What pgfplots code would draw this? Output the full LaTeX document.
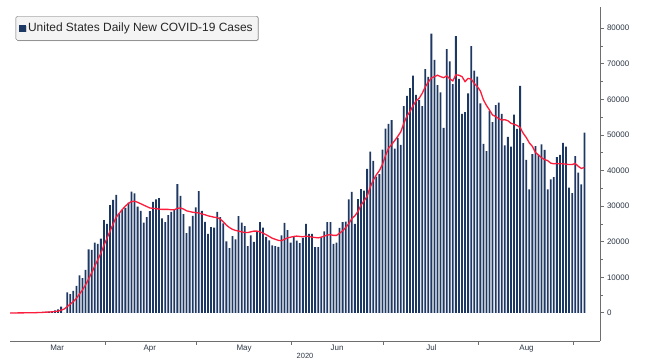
\documentclass[border=0pt]{standalone}
\usepackage{pgfplots}
\pgfplotsset{compat=1.18}
\usepackage{pgfplotstable}
\usepackage{fontspec}
\setmainfont{Liberation Sans}
\usetikzlibrary{shadows}
\definecolor{barblue}{RGB}{30,56,100}
\definecolor{malred}{RGB}{252,28,60}
\definecolor{axgray}{RGB}{110,110,110}
\definecolor{txt}{RGB}{45,55,70}

\pgfplotstableread{
d cases ma
0 10 20
1 15 20
2 20 20
3 30 25
4 40 30
5 60 40
6 80 50
7 110 60
8 100 75
9 200 100
10 250 130
11 300 170
12 350 220
13 400 270
14 550 330
15 700 410
16 1000 500
17 1800 800
18 0 1100
19 5800 1800
20 5300 2500
21 6200 3200
22 7600 4100
23 10600 5300
24 9800 6500
25 12100 7900
26 17900 9600
27 17700 11300
28 19800 13200
29 19400 15000
30 20900 16800
31 26100 19000
32 25000 21000
33 30300 23000
34 31800 25000
35 33200 26900
36 28000 28000
37 28900 29100
38 29500 30000
39 31000 30800
40 34100 31300
41 33600 31400
42 29900 31100
43 28700 30700
44 25400 30300
45 26900 29900
46 28600 29500
47 31200 29400
48 31900 29300
49 32300 29200
50 26600 29100
51 25500 29100
52 27500 29100
53 28400 29000
54 28900 29000
55 36200 29400
56 32900 29500
57 27800 29200
58 22400 28700
59 24300 28500
60 27300 28300
61 29700 28200
62 34200 28100
63 28700 27800
64 25600 27600
65 22200 27300
66 24100 27100
67 24000 26900
68 28400 26800
69 26900 26400
70 25200 25600
71 20100 24700
72 18200 24000
73 21600 23500
74 20700 23200
75 27200 23000
76 25400 22800
77 24400 22600
78 18800 22600
79 21800 22800
80 20000 23000
81 22700 23000
82 25500 22800
83 24000 22400
84 21400 22000
85 20400 21500
86 19000 21000
87 18800 20700
88 18600 20400
89 21800 20300
90 25300 20700
91 23300 21100
92 19800 21300
93 21300 21500
94 20300 21600
95 19600 21500
96 21100 21400
97 25000 21600
98 22200 21500
99 22200 21300
100 18500 21200
101 18500 21100
102 21300 21300
103 22900 21600
104 25500 21900
105 25500 22000
106 19400 21800
107 19800 21800
108 23900 22400
109 25500 23100
110 25700 24000
111 31900 25100
112 34000 26500
113 25000 27300
114 32000 28500
115 34800 30300
116 34400 31500
117 40500 32800
118 45300 35300
119 42700 37300
120 38300 38800
121 39000 40000
122 45900 41700
123 51800 44200
124 53100 46300
125 54200 47300
126 46200 48400
127 49200 49600
128 47200 50900
129 58100 53300
130 61000 55300
131 63200 56600
132 66700 58200
133 61300 59600
134 59800 60300
135 58100 61700
136 68500 63500
137 66300 64900
138 78500 66000
139 71100 66400
140 64000 66800
141 62000 66400
142 52000 66100
143 74100 66600
144 70700 65800
145 64300 65200
146 77800 66900
147 65800 66800
148 55900 66400
149 56400 65000
150 61700 65900
151 75000 65700
152 68100 64500
153 66400 63600
154 58900 62400
155 47500 59900
156 45500 58300
157 56700 57000
158 53600 55600
159 58400 55200
160 59100 54600
161 55900 54200
162 47100 54300
163 49500 54000
164 46700 53300
165 55700 53000
166 51700 52700
167 63800 52100
168 47700 50500
169 43000 49300
170 34700 47800
171 44600 46800
172 46900 45100
173 44400 44400
174 47400 43600
175 45800 43100
176 34700 42800
177 37500 42100
178 38200 41900
179 43800 42000
180 44400 41900
181 47800 41900
182 46700 41800
183 35200 41700
184 33700 41700
185 44100 42000
186 39400 41200
187 36100 40600
188 50700 40900
}\covid

\begin{document}
\begin{tikzpicture}
\useasboundingbox (0,0) rectangle (653bp,360bp);
\begin{axis}[
  at={(10bp,19bp)}, anchor=south west,
  scale only axis, width=590bp, height=334bp,
  xmin=0.3, xmax=193.1, ymin=-7870, ymax=85960,
  axis x line*=bottom, axis y line*=right,
  axis line style={axgray, line width=0.7bp},
  tick align=outside,
  xtick={31.3,61.3,92.3,122.4,153.4,184.4},
  xticklabels={},
  extra x ticks={15.7,46.0,76.8,107.2,138.0,169.1},
  extra x tick labels={Mar,Apr,May,Jun,Jul,Aug},
  extra x tick style={major tick length=0pt},
  x tick style={axgray, line width=0.6bp},
  major tick length=3.5bp,
  minor tick length=2.5bp,
  y tick style={axgray, line width=1bp},
  minor y tick style={line width=0.6bp},
  ytick={0,10000,20000,30000,40000,50000,60000,70000,80000},
  minor y tick num=1,
  scaled y ticks=false,
  yticklabel style={/pgf/number format/.cd, fixed, precision=0, 1000 sep={}, assume math mode=true},
  tick label style={font=\fontsize{8}{9}\selectfont, text=txt},
  xlabel={2020},
  xlabel style={at={(axis description cs:0.5,0)}, anchor=north, yshift=-12.5bp, inner sep=0pt, font=\fontsize{7.5}{8}\selectfont, text=txt},
  legend image code/.code={\fill[barblue, sharp corners] (0bp,-3.3bp) rectangle (6.7bp,3.4bp);},
  legend style={at={(axis description cs:0.0097,0.973)}, anchor=north west,
    draw=gray!85!black, fill=gray!9, rounded corners=1.5bp,
    drop shadow={shadow xshift=0.8bp, shadow yshift=-0.8bp, opacity=0.35},
    font=\fontsize{12}{14}\selectfont, text=black!85,
    inner xsep=3.5bp, inner ysep=5bp},
]
\addplot[ybar, bar width=1.8bp, fill=barblue, draw=none] table[x=d, y=cases]{\covid};
\addlegendentry{United States Daily New COVID-19 Cases}
\addplot[malred, line width=1.3bp, no marks, forget plot] table[x=d, y=ma]{\covid};
\end{axis}
\end{tikzpicture}
\end{document}
